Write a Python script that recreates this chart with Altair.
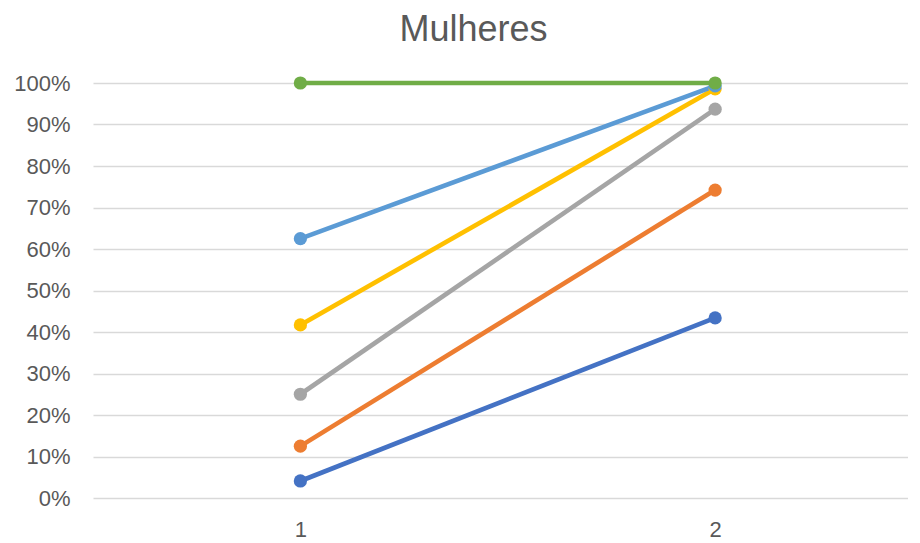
import altair as alt
import pandas as pd

categories = [1, 2]
series_names = ["S1", "S2", "S3", "S4", "S5", "S6"]
series_colors = ["#4472C4", "#ED7D31", "#A5A5A5", "#FFC000", "#5B9BD5", "#70AD47"]
s1 = [0.041, 0.434]
s2 = [0.125, 0.742]
s3 = [0.25, 0.937]
s4 = [0.417, 0.986]
s5 = [0.625, 0.993]
s6 = [1.0, 1.0]
y_ticks = [i / 10 for i in range(11)]

rows = []
for name, vals in zip(series_names, [s1, s2, s3, s4, s5, s6]):
    for c, v in zip(categories, vals):
        rows.append({"serie": name, "x": c, "y": v})
df = pd.DataFrame(rows)

FONT = "Liberation Sans"
TXT = "#595959"

x = alt.X("x:Q", scale=alt.Scale(domain=[0.5, 2.465], nice=False, zero=False),
          axis=alt.Axis(values=categories, format="d", title=None, grid=False, domain=False,
                        ticks=False, labelFontSize=22, labelColor=TXT, labelFont=FONT,
                        labelPadding=21))
y = alt.Y("y:Q", scale=alt.Scale(domain=[0, 1], nice=False),
          axis=alt.Axis(values=y_ticks, format=".0%", title=None, domain=False, ticks=False,
                        gridColor="#D9D9D9", gridWidth=1.3, labelFontSize=22, labelColor=TXT,
                        labelFont=FONT, labelPadding=23))
color = alt.Color("serie:N", scale=alt.Scale(domain=series_names, range=series_colors), legend=None)

base = alt.Chart(df).encode(x=x, y=y, color=color)
lines = base.mark_line(strokeWidth=4.6)
points = base.mark_circle(size=175, opacity=1)

chart = alt.layer(lines, points).properties(
    width=815, height=415,
    title=alt.TitleParams("Mulheres", fontSize=36, color=TXT, font=FONT, fontWeight="normal",
                          dx=-27, offset=23),
    autosize=alt.AutoSizeParams(type="none"),
    padding={"left": 85, "top": 75, "right": 0, "bottom": 44},
).configure_view(stroke=None)

chart.save("out.html", embed_options={"renderer": "svg", "actions": False})
